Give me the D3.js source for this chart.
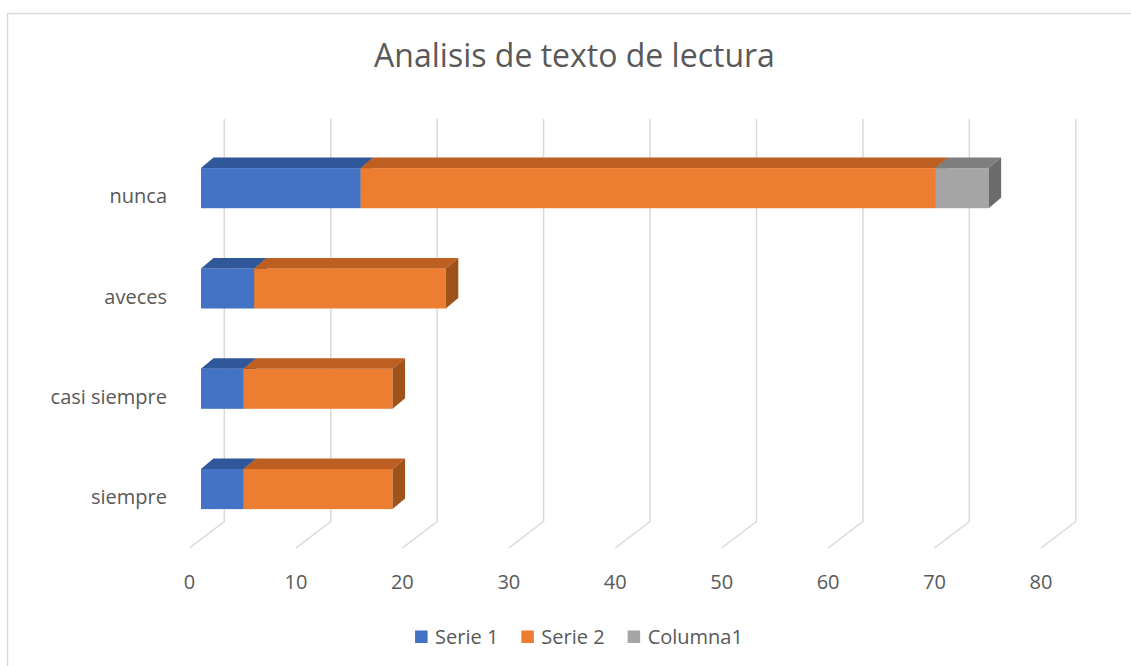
<!DOCTYPE html>
<html>
<head>
<meta charset="utf-8">
<script src="https://cdn.jsdelivr.net/npm/d3@7"></script>
<style>
  body { margin: 0; background: #fff; }
  text { font-family: "Open Sans", sans-serif; fill: #595959; }
</style>
</head>
<body>
<svg id="chart" width="1131" height="666"></svg>
<script>
// Data, bottom category first (as in the sheet)
var categories = ['siempre', 'casi siempre', 'aveces', 'nunca'];
var serie1 = [4, 4, 5, 15];
var serie2 = [14, 14, 18, 54];
var columna1 = [0, 0, 0, 5];
var seriesNames = ['Serie 1', 'Serie 2', 'Columna1'];
var xTicks = [0, 10, 20, 30, 40, 50, 60, 70, 80];

var svg = d3.select('#chart');

// colours: front, top, side
var shades = [
    ['#4472C4', '#30579A', '#2B4E8C'],
    ['#ED7D31', '#BC5F20', '#A0521B'],
    ['#A5A5A5', '#7F7F7F', '#6B6B6B']
];

// frame (cut off right and bottom in the original)
svg.append('rect')
    .attr('x', 7.5).attr('y', 13.5)
    .attr('width', 1140).attr('height', 670)
    .attr('fill', 'none')
    .attr('stroke', '#D9D9D9')
    .attr('stroke-width', 1.5);

// value scale on the front edge of the floor
var x = d3.scaleLinear().domain([0, 80]).range([189.5, 1041]);
// full depth of the box
var depthX = 34.8, depthY = -26.5;
var floorY = 548;
var topY = 119;

// category scale on the bars' front faces
var y = d3.scaleBand()
    .domain(categories.slice().reverse())
    .range([138, 539.2])
    .paddingInner(0.6)
    .paddingOuter(0.3);

// bars sit in the middle third of the depth
var barOffX = 11.5, barOffY = 0;
var barDX = 12.5, barDY = -10.5;

// gridlines: floor diagonal + back wall vertical
var grid = svg.append('g');
xTicks.forEach(function(v) {
    var xf = x(v);
    grid.append('path')
        .attr('d', 'M' + xf + ',' + floorY +
                   'L' + (xf + depthX) + ',' + (floorY + depthY) +
                   'L' + (xf + depthX) + ',' + topY)
        .attr('fill', 'none')
        .attr('stroke', '#D9D9D9')
        .attr('stroke-width', 1.5);
});

// stacked data
var stackData = categories.map(function(c, i) {
    return { cat: c, vals: [serie1[i], serie2[i], columna1[i]] };
});

var bars = svg.append('g');
stackData.forEach(function(d) {
    var y0 = y(d.cat), y1 = y0 + y.bandwidth();
    var acc = 0;
    d.vals.forEach(function(v, s) {
        if (v <= 0) return;
        var xa = x(acc) - x(0) + x(0) + barOffX;
        var xb = x(acc + v) + barOffX;
        acc += v;
        var g = bars.append('g');
        // front
        g.append('rect')
            .attr('x', xa).attr('y', y0)
            .attr('width', xb - xa).attr('height', y1 - y0)
            .attr('fill', shades[s][0]);
        // top
        g.append('path')
            .attr('d', 'M' + xa + ',' + y0 + 'L' + xb + ',' + y0 +
                       'L' + (xb + barDX) + ',' + (y0 + barDY) +
                       'L' + (xa + barDX) + ',' + (y0 + barDY) + 'Z')
            .attr('fill', shades[s][1]);
        // right side
        g.append('path')
            .attr('d', 'M' + xb + ',' + y0 + 'L' + (xb + barDX) + ',' + (y0 + barDY) +
                       'L' + (xb + barDX) + ',' + (y1 + barDY) +
                       'L' + xb + ',' + y1 + 'Z')
            .attr('fill', shades[s][2]);
    });
});

// category labels
svg.append('g').selectAll('text')
    .data(categories)
    .enter().append('text')
    .attr('x', 167)
    .attr('y', function(d) { return y(d) + y.bandwidth() / 2 + 10; })
    .attr('text-anchor', 'end')
    .attr('dominant-baseline', 'middle')
    .style('font-size', '20px')
    .text(function(d) { return d; });

// value tick labels
svg.append('g').selectAll('text')
    .data(xTicks)
    .enter().append('text')
    .attr('x', function(d) { return x(d); })
    .attr('y', 589)
    .attr('text-anchor', 'middle')
    .style('font-size', '20px')
    .text(function(d) { return d; });

// title
svg.append('text')
    .attr('x', 574.5).attr('y', 67)
    .attr('text-anchor', 'middle')
    .style('font-size', '32px')
    .text('Analisis de texto de lectura');

// legend, centred
var legend = svg.append('g');
var lx = 0;
seriesNames.forEach(function(name, i) {
    var item = legend.append('g').attr('transform', 'translate(' + lx + ',0)');
    item.append('rect')
        .attr('x', 0).attr('y', 630.5)
        .attr('width', 12.5).attr('height', 12.5)
        .attr('fill', shades[i][0]);
    var t = item.append('text')
        .attr('x', 20).attr('y', 644)
        .style('font-size', '20px')
        .text(name);
    lx += 20 + t.node().getComputedTextLength() + 23;
});
var legendW = lx - 23;
legend.attr('transform', 'translate(' + (579 - legendW / 2) + ',0)');
</script>
</body>
</html>
